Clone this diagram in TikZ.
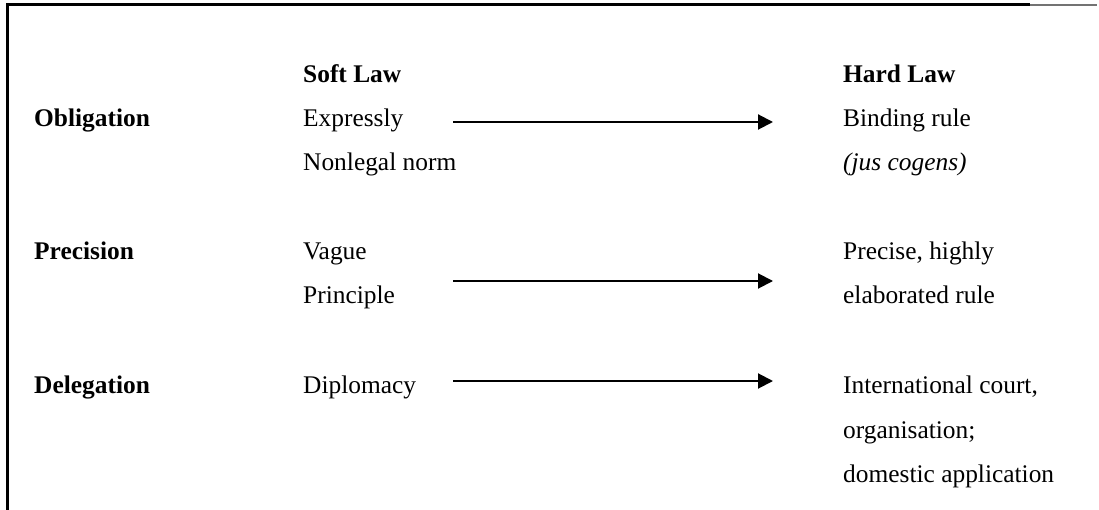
\documentclass[tikz,border=0pt]{standalone}
\usepackage{fontspec}
\setmainfont{Liberation Serif}
\usetikzlibrary{arrows.meta}
\begin{document}
\begin{tikzpicture}[x=1pt,y=-1pt,
  txt/.style={anchor=base west,inner sep=0pt,font=\fontsize{25.4}{30}\selectfont},
  hdr/.style={anchor=base west,inner sep=0pt,font=\fontsize{25.4}{30}\selectfont\bfseries},
  arr/.style={line width=2pt,-{Triangle[length=15pt,width=15pt]}}]
\useasboundingbox (0,0) rectangle (1099,510);
% frame (top and left only)
\draw[line width=3pt] (7,510) -- (7,5) -- (1030,5);
\draw[line width=2.5pt,black!55] (1030,5) -- (1097,5);
% headers
\node[hdr] (soft) at (303,83) {Soft Law};
\node[hdr] (hard) at (843,83) {Hard Law};
% row 1
\node[hdr] (obl) at (34,127) {Obligation};
\node[txt] (expr) at (303,127) {Expressly};
\node[txt] (nonl) at (303,171) {Nonlegal norm};
\node[txt] (bind) at (843,127) {Binding rule};
\node[txt] (jus) at (843,171) {\itshape (jus cogens)};
% row 2
\node[hdr] (prec) at (34,260) {Precision};
\node[txt] (vague) at (303,260) {Vague};
\node[txt] (princ) at (303,303) {Principle};
\node[txt] (precise) at (843,260) {Precise, highly};
\node[txt] (elab) at (843,304) {elaborated rule};
% row 3
\node[hdr] (deleg) at (34,393) {Delegation};
\node[txt] (dipl) at (303,393) {Diplomacy};
\node[txt] (intl) at (843,393) {International court,};
\node[txt] (org) at (843,438) {organisation;};
\node[txt] (dom) at (843,482) {domestic application};
% arrows
\coordinate (a1s) at (453,122);
\coordinate (a1e) at (773,122);
\coordinate (a2s) at (453,281);
\coordinate (a2e) at (773,281);
\coordinate (a3s) at (453,381);
\coordinate (a3e) at (773,381);
\draw[arr] (a1s) -- (a1e);
\draw[arr] (a2s) -- (a2e);
\draw[arr] (a3s) -- (a3e);
\end{tikzpicture}
\end{document}
